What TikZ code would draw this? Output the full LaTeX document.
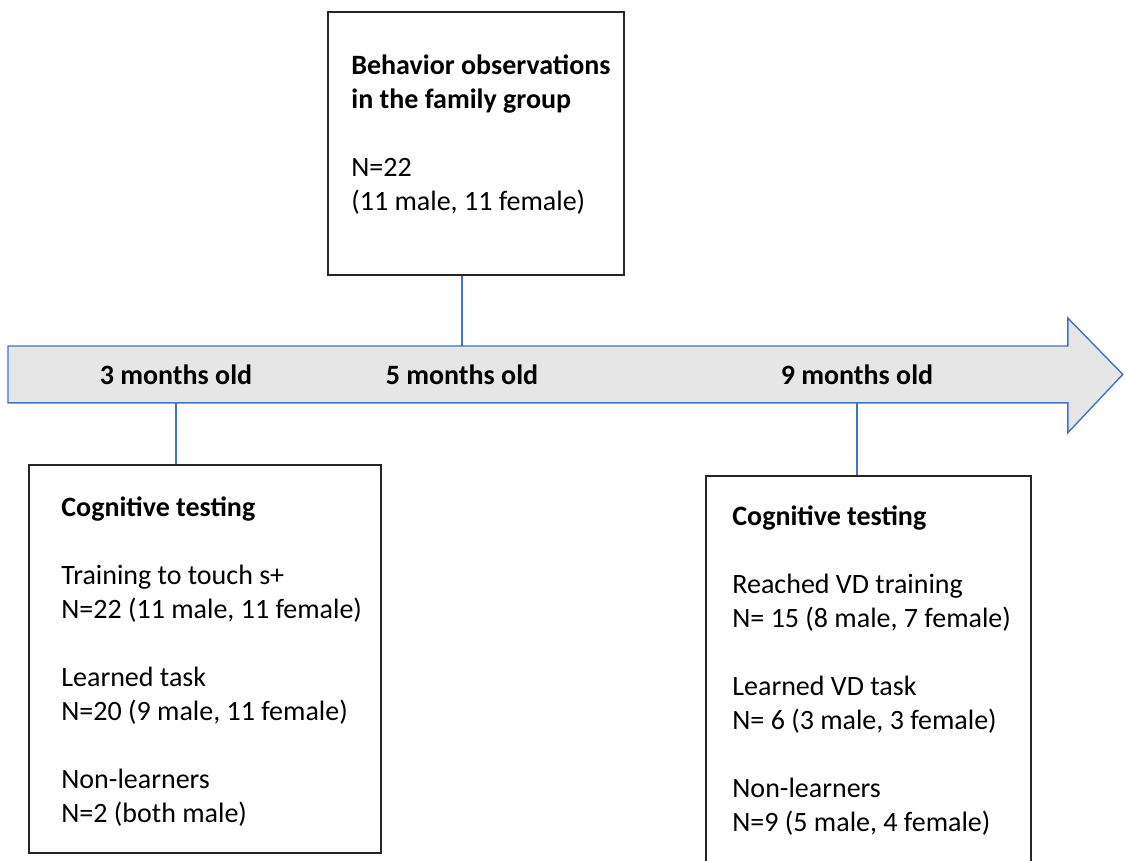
\documentclass[tikz,border=0pt]{standalone}
\usepackage{fontspec}
\setmainfont{Carlito}
\usetikzlibrary{positioning}
\definecolor{linkblue}{HTML}{4472C4}
\definecolor{bargray}{HTML}{E7E6E6}

\begin{document}
\begin{tikzpicture}[x=0.5pt,y=-0.5pt,
  box/.style={draw=black!85, line width=1.1pt, rectangle, anchor=north west, inner sep=0},
  txt/.style={anchor=north west, align=left, inner sep=0, font=\fontsize{14}{17}\selectfont},
  age/.style={font=\fontsize{14}{16}\selectfont\bfseries, inner sep=0},
  link/.style={draw=linkblue, line width=1.2pt}]
\clip (0,0) rectangle (1125,861);

% timeline arrow
\node[minimum width=529.5pt, minimum height=28pt, inner sep=0, anchor=north west] (shaft) at (8,346) {};
\filldraw[fill=bargray, draw=linkblue, line width=0.7pt]
  (shaft.north west) -- (shaft.north east) -- ([yshift=14pt]shaft.north east)
  -- ([xshift=27.5pt]shaft.east) -- ([yshift=-15pt]shaft.south east)
  -- (shaft.south east) -- (shaft.south west) -- cycle;

\node[age] (m3) at (176,375) {3 months old};
\node[age] (m5) at (462,375) {5 months old};
\node[age] (m9) at (857,375) {9 months old};

% boxes
\node[box, minimum width=148pt, minimum height=131.5pt] (obs) at (327,11) {};
\node[txt] (obstxt) at (351,54) {\textbf{Behavior observations}\\ \textbf{in the family group}\\[17pt]
  N=22\\ (11 male, 11 female)};

\node[box, minimum width=176pt, minimum height=194pt] (cog3) at (28,464) {};
\node[txt] (cog3txt) at (61,496) {\textbf{Cognitive testing}\\[17pt]
  Training to touch s+\\ N=22 (11 male, 11 female)\\[17pt]
  Learned task\\ N=20 (9 male, 11 female)\\[17pt]
  Non-learners\\ N=2 (both male)};

\node[box, minimum width=162.5pt, minimum height=215pt] (cog9) at (705,475) {};
\node[txt] (cog9txt) at (732,505) {\textbf{Cognitive testing}\\[17pt]
  Reached VD training\\ N= 15 (8 male, 7 female)\\[17pt]
  Learned VD task\\ N= 6 (3 male, 3 female)\\[17pt]
  Non-learners\\ N=9 (5 male, 4 female)};

\draw[link] (m5 |- obs.south) -- (m5 |- shaft.north);
\draw[link] (m3 |- shaft.south) -- (m3 |- cog3.north);
\draw[link] (m9 |- shaft.south) -- (m9 |- cog9.north);
\end{tikzpicture}
\end{document}
